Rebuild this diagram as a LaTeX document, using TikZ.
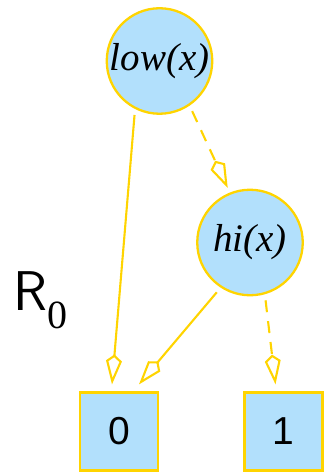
\documentclass[tikz,border=0pt]{standalone}
\usepackage{fontspec}
\setmainfont{Liberation Serif}
\newfontfamily\digitfont{Liberation Sans}
\usetikzlibrary{arrows.meta,calc}
\definecolor{edgegold}{RGB}{255,212,0}
\definecolor{nodeblue}{RGB}{178,224,252}
\begin{document}
\begin{tikzpicture}[x=1pt,y=-1pt,
 fn/.style={circle, draw=edgegold, fill=nodeblue, line width=2.3pt, minimum size=105.5pt, inner sep=0pt, font=\fontsize{39}{40}\selectfont\itshape},
 leaf/.style={rectangle, draw=edgegold, fill=nodeblue, line width=2.3pt, minimum size=78pt, inner sep=0pt, font=\digitfont\fontsize{39}{40}\selectfont},
 conn/.style={draw=edgegold, line width=2.1pt, shorten <=6pt, -{Kite[open, length=30pt, width=16pt, inset=6.5pt, line width=2.1pt]}},
 dashconn/.style={conn, dash pattern=on 12pt off 9pt}
]
\useasboundingbox (0,0) rectangle (324,473);
\node[fn] (low) at (159.5,61) {low(x)};
\node[fn] (hi) at (250,242.5) {hi(x)};
\node[leaf] (b0) at (119,431.5) {0};
\node[leaf] (b1) at (283.5,431.5) {1};
\node[anchor=base west, inner sep=0pt] (r0) at (13,310) {\sffamily\fontsize{56}{60}\selectfont R\raisebox{-18pt}{\rmfamily\fontsize{40}{40}\selectfont 0}};
\draw[conn] (low.243) -- ([shift={(-7,-7)}]b0.north);
\draw[conn] (hi.237) -- ([shift={(20,-7)}]b0.north);
\draw[dashconn, shorten >=5pt] (low.304) -- (hi.112);
\draw[dashconn] (hi.286) -- ([shift={(-8,-7)}]b1.north);
\end{tikzpicture}
\end{document}
